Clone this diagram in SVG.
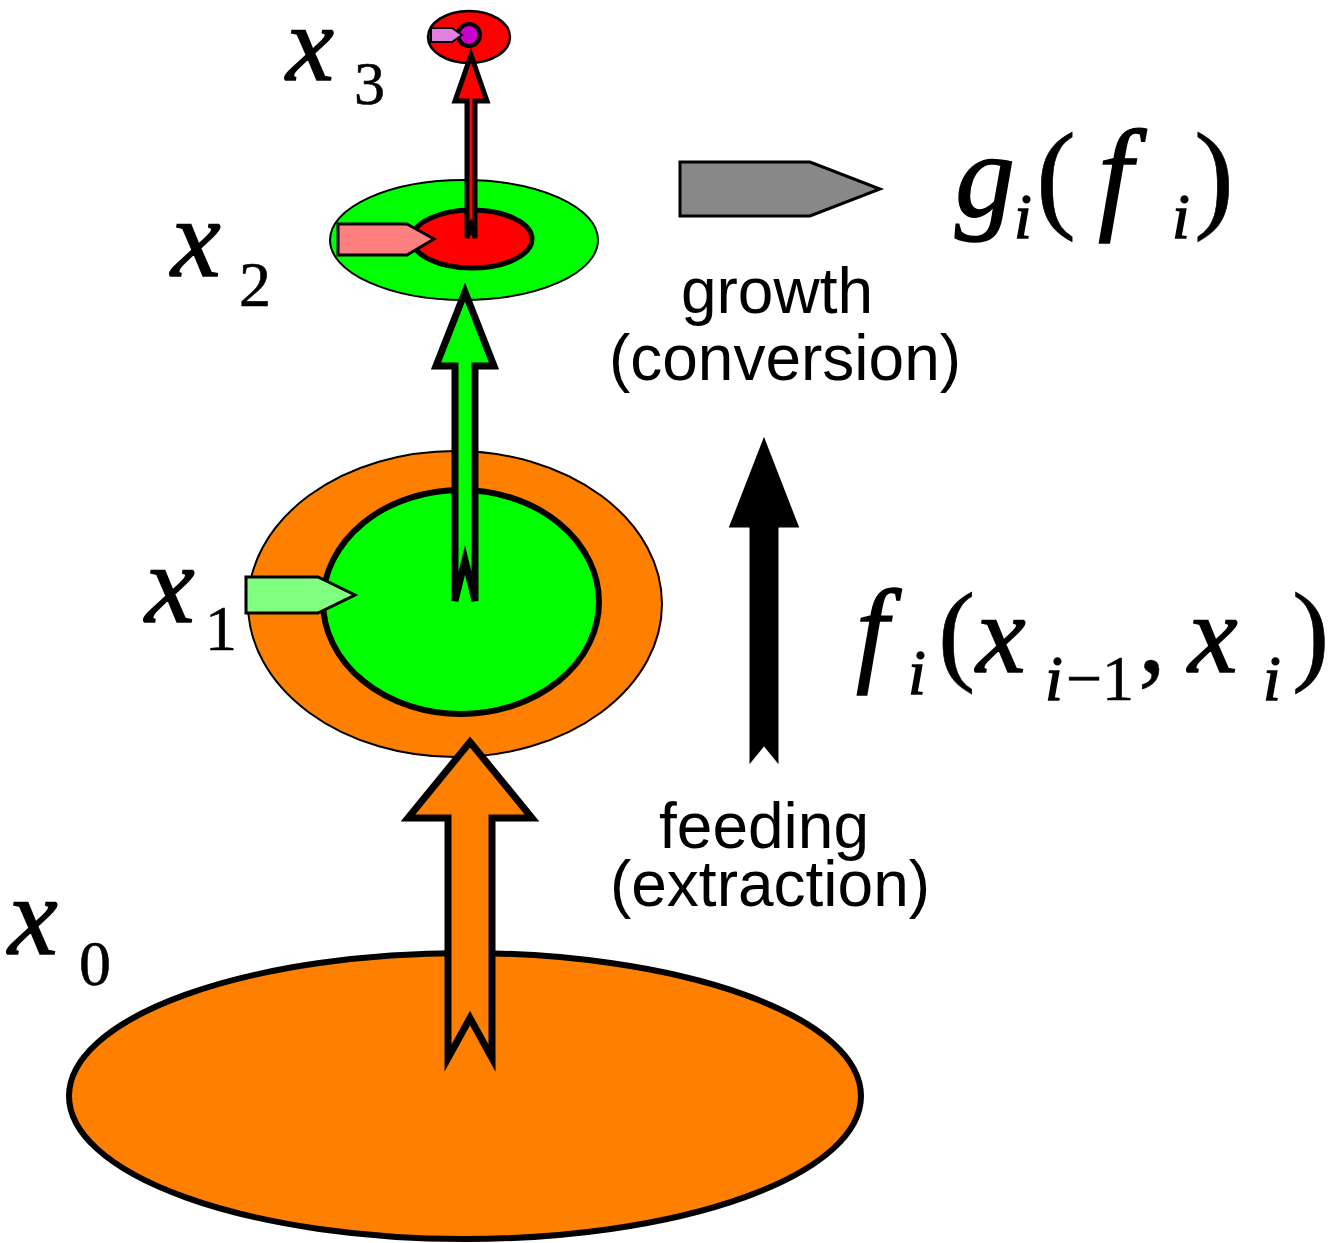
<svg xmlns="http://www.w3.org/2000/svg" width="1337" height="1243" viewBox="0 0 1337 1243">
<style>
.m{font-family:"Liberation Serif","Times New Roman",serif;font-style:italic;fill:#000;stroke:#000;stroke-width:1.4}
.n{font-family:"Liberation Serif","Times New Roman",serif;font-style:normal;fill:#000;stroke:#000;stroke-width:0.6}
.s{font-family:"Liberation Sans",Arial,sans-serif;font-size:64px;fill:#000}
.blk{stroke:#000;stroke-linejoin:miter;stroke-miterlimit:6}
</style>
<rect width="1337" height="1243" fill="#fff"/>
<g id="x0">
<ellipse cx="465" cy="1096" rx="396" ry="143" fill="#FF8000" stroke="#000" stroke-width="6"/>
<text class="m" x="8" y="954" font-size="112">x</text>
<text class="n" x="79" y="985" font-size="64">0</text>
</g>
<g id="x1">
<ellipse cx="455" cy="604" rx="207" ry="153" fill="#FF8000" stroke="#000" stroke-width="2"/>
<ellipse cx="461" cy="602" rx="138" ry="112" fill="#00FF00" stroke="#000" stroke-width="6"/>
<text class="m" x="145" y="622" font-size="112">x</text>
<text class="n" x="205" y="650" font-size="64">1</text>
</g>
<g id="x2">
<ellipse cx="464" cy="240" rx="134" ry="60" fill="#00FF00" stroke="#000" stroke-width="2"/>
<ellipse cx="472" cy="239" rx="60" ry="29" fill="#FF0000" stroke="#000" stroke-width="5"/>
<text class="m" x="171" y="276" font-size="112">x</text>
<text class="n" x="239" y="306" font-size="64">2</text>
</g>
<g id="x3">
<ellipse cx="469" cy="37" rx="41" ry="26" fill="#FF0000" stroke="#000" stroke-width="2.5"/>
<text class="m" x="286" y="80" font-size="108">x</text>
<text class="n" x="354" y="104" font-size="62">3</text>
</g>
<g id="connectors">
<path class="blk" d="M470,742 L532,818 L492,818 L492,1058 L470,1018 L448,1058 L448,818 L408,818 Z" fill="#FF8000" stroke-width="7"/>
<path class="blk" d="M465,292 L494,366 L475,366 L475,601 L465,560 L455,601 L455,366 L436,366 Z" fill="#00FF00" stroke-width="7"/>
<path class="blk" d="M471,55 L487,101 L475,101 L475,238 L471,226 L467,238 L467,101 L455,101 Z" fill="#FF0000" stroke-width="5"/>
<path class="blk" d="M764,441 L797,526 L777,526 L777,760 L764,744 L751,760 L751,526 L731,526 Z" fill="#000" stroke-width="3"/>
<path class="blk" d="M680,162 L810,162 L880,189 L810,216 L680,216 Z" fill="#888" stroke-width="3"/>
<path class="blk" d="M246,577 L318,577 L355,595 L318,613 L246,613 Z" fill="#80FF80" stroke-width="3"/>
<path class="blk" d="M338,224 L407,224 L434,239 L407,255 L338,255 Z" fill="#FF8080" stroke-width="3"/>
<circle cx="469" cy="35" r="11" fill="#CC00CC" stroke="#000" stroke-width="4"/>
<path class="blk" d="M431,28 L452,28 L462,35 L452,42 L431,42 Z" fill="#E080E0" stroke-width="2"/>
</g>
<g id="labels">
<text class="s" x="777" y="313" text-anchor="middle">growth</text>
<text class="s" x="785" y="380" text-anchor="middle">(conversion)</text>
<text class="s" x="764" y="848" text-anchor="middle">feeding</text>
<text class="s" x="770" y="906" text-anchor="middle">(extraction)</text>
<text class="m" x="955" y="216" font-size="120">g</text>
<text class="m" x="1014" y="238" font-size="64">i</text>
<text class="n" x="1036" y="216" font-size="120">(</text>
<text class="m" x="1098" y="216" font-size="124">f</text>
<text class="m" x="1172" y="238" font-size="64">i</text>
<text class="n" x="1194" y="216" font-size="120">)</text>
<text class="m" x="856" y="670" font-size="116">f</text>
<text class="m" x="908" y="694" font-size="64">i</text>
<text class="n" x="938" y="670" font-size="112">(</text>
<text class="m" x="976" y="672" font-size="112">x</text>
<text class="m" x="1045" y="700" font-size="64">i</text>
<text class="n" x="1066" y="700" font-size="64">−1</text>
<text class="n" x="1138" y="672" font-size="112">,</text>
<text class="m" x="1188" y="672" font-size="112">x</text>
<text class="m" x="1263" y="700" font-size="64">i</text>
<text class="n" x="1292" y="670" font-size="112">)</text>
</g>
</svg>
